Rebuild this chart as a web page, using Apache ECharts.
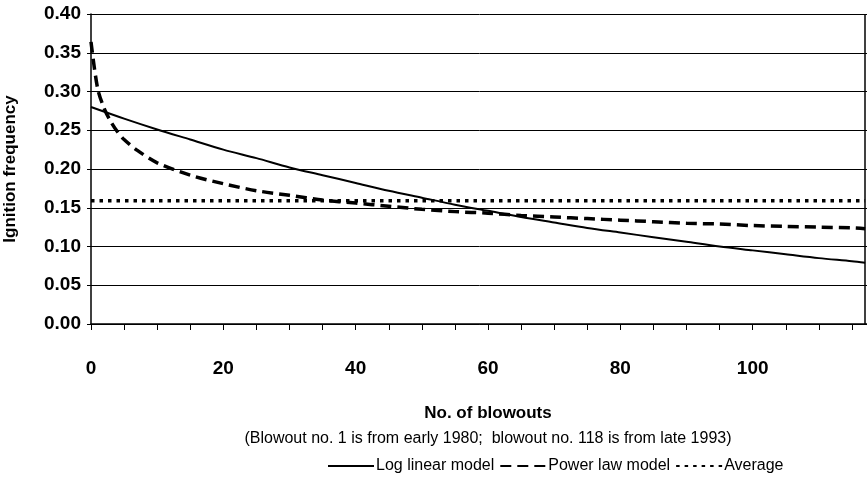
<!DOCTYPE html>
<html>
<head>
<meta charset="utf-8">
<script src="https://cdn.jsdelivr.net/npm/echarts@6/dist/echarts.min.js"></script>
<style>
  html, body { margin: 0; padding: 0; background: #fff; }
  #chart { width: 867px; height: 478px; }
</style>
</head>
<body>
<div id="chart"></div>
<script>
// blowout number positions
const logX = [0, 5, 10, 15, 20, 25, 30, 35, 40, 45, 50, 55, 60, 65, 70, 75, 80, 85, 90, 95, 100, 105, 110, 115, 117];
const logLinear = [0.280, 0.265, 0.251, 0.238, 0.225, 0.214, 0.202, 0.192, 0.182, 0.172, 0.163, 0.154, 0.146, 0.138, 0.131, 0.124, 0.118, 0.112, 0.106, 0.100, 0.095, 0.090, 0.085, 0.081, 0.079];

const powX = [0, 1, 2, 3, 4, 5, 7, 10, 15, 20, 25, 30, 35, 40, 45, 50, 55, 60, 65, 70, 75, 80, 85, 90, 95, 100, 105, 110, 115, 117];
const powerLaw = [0.364, 0.304, 0.278, 0.261, 0.248, 0.238, 0.224, 0.208, 0.192, 0.181, 0.172, 0.166, 0.160, 0.156, 0.152, 0.148, 0.145, 0.143, 0.140, 0.138, 0.136, 0.134, 0.132, 0.130, 0.129, 0.127, 0.126, 0.125, 0.124, 0.123];

const avgX = [0, 117];
const average = [0.159, 0.159];

const lastBlowout = 117;

const font = "'Liberation Sans', Arial, sans-serif";
const pairs = (xs, ys) => xs.map((x, i) => [x, ys[i]]);

const chart = echarts.init(document.getElementById('chart'));
chart.setOption({
  backgroundColor: '#fff',
  animation: false,
  grid: { left: 91, top: 14, width: 794, height: 310, containLabel: false, outerBoundsMode: 'none' },
  legend: {
    left: 322,
    top: 453,
    itemWidth: 46,
    itemHeight: 10,
    itemGap: 5,
    itemStyle: { opacity: 0 },
    textStyle: { fontFamily: font, fontSize: 16, color: '#000', padding: [0, 0, 0, -3] },
    data: ['Log linear model', 'Power law model', 'Average']
  },
  xAxis: {
    type: 'value',
    min: 0,
    max: 120,
    interval: 20,
    name: '{a|No. of blowouts}\n{b|(Blowout no. 1 is from early 1980;  blowout no. 118 is from late 1993)}',
    nameLocation: 'middle',
    nameGap: 77,
    nameTextStyle: {
      align: 'center',
      rich: {
        a: { fontFamily: font, fontWeight: 'bold', fontSize: 17, color: '#000', lineHeight: 25, align: 'center' },
        b: { fontFamily: font, fontSize: 16, color: '#000', lineHeight: 25, align: 'center' }
      }
    },
    axisLine: { show: true, lineStyle: { color: '#000', width: 1.5 } },
    axisTick: { show: true, length: 6, lineStyle: { color: '#000' } },
    minorTick: { show: true, splitNumber: 4, length: 6, lineStyle: { color: '#000' } },
    splitLine: { show: false },
    axisLabel: {
      margin: 35,
      fontFamily: font,
      fontWeight: 'bold',
      fontSize: 19,
      color: '#000',
      showMaxLabel: false
    }
  },
  yAxis: {
    type: 'value',
    min: 0,
    max: 0.4,
    interval: 0.05,
    name: 'Ignition frequency',
    nameLocation: 'middle',
    nameGap: 72,
    nameTextStyle: { fontFamily: font, fontWeight: 'bold', fontSize: 17, color: '#000' },
    axisLine: { show: true, lineStyle: { color: '#000', width: 1.5 } },
    axisTick: { show: true, length: 4, lineStyle: { color: '#000' } },
    splitLine: { show: true, lineStyle: { color: '#000', width: 1 } },
    axisLabel: {
      margin: 10,
      fontFamily: font,
      fontWeight: 'bold',
      fontSize: 19,
      color: '#000',
      formatter: v => v.toFixed(2)
    }
  },
  series: [
    {
      name: 'Log linear model',
      type: 'line',
      data: pairs(logX, logLinear),
      showSymbol: false,
      symbol: 'none',
      smooth: 0.3,
      lineStyle: { color: '#000', width: 2 },
      itemStyle: { color: '#000' }
    },
    {
      name: 'Power law model',
      type: 'line',
      data: pairs(powX, powerLaw),
      showSymbol: false,
      symbol: 'none',
      smooth: 0.3,
      lineStyle: { color: '#000', width: 3.5, type: [11, 6] },
      itemStyle: { color: '#000' }
    },
    {
      name: 'Average',
      type: 'line',
      data: pairs(avgX, average),
      showSymbol: false,
      symbol: 'none',
      lineStyle: { color: '#000', width: 3.5, type: [3.5, 5] },
      itemStyle: { color: '#000' },
      markLine: {
        silent: true,
        symbol: 'none',
        label: { show: false },
        lineStyle: { color: '#000', width: 1.5, type: 'solid' },
        data: [{ xAxis: lastBlowout }]
      }
    }
  ]
});
</script>
</body>
</html>
